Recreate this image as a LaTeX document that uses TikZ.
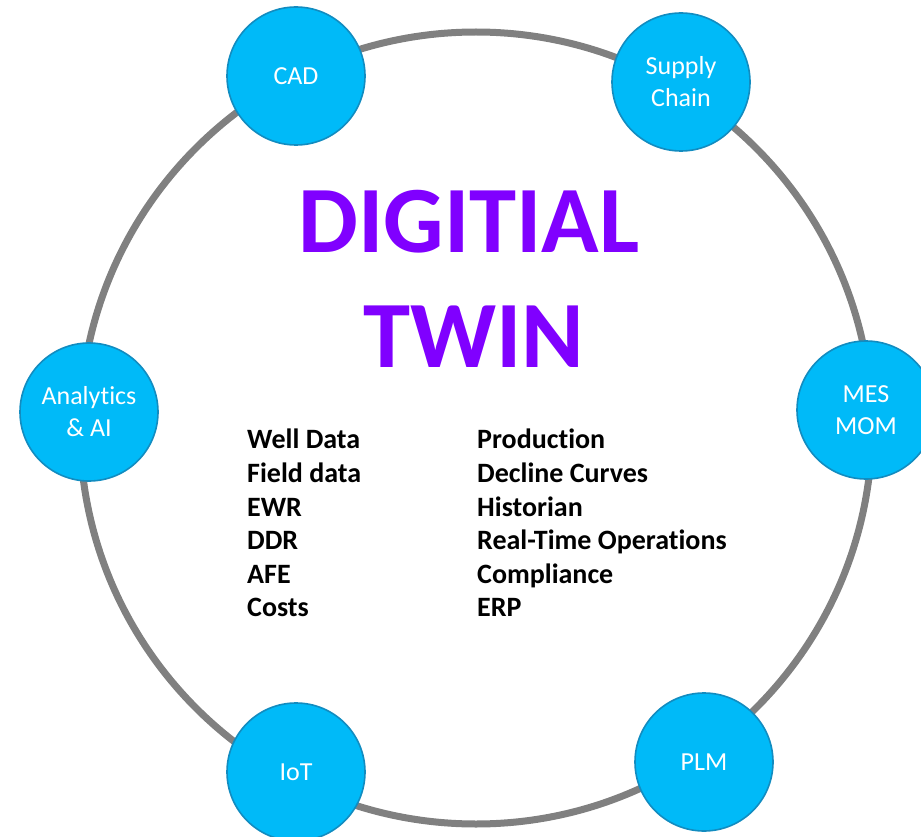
\documentclass[tikz,border=0pt]{standalone}
\usepackage{fontspec}
\setmainfont{Carlito}[Ligatures=NoCommon]
\usetikzlibrary{positioning}
\definecolor{hubblue}{RGB}{0,186,248}
\definecolor{hubline}{RGB}{18,140,192}
\definecolor{ringgrey}{RGB}{128,128,128}
\definecolor{twinpurple}{RGB}{128,0,255}
\begin{document}
\begin{tikzpicture}[x=1pt,y=-1pt,
   hub/.style={circle,draw=hubline,line width=1.6pt,fill=hubblue,minimum size=138pt,
      inner sep=0pt,text=white,align=center,font=\fontsize{26}{32}\selectfont},
   title/.style={text=twinpurple,font=\bfseries\fontsize{95}{115}\selectfont,inner sep=0pt},
   items/.style={align=left,inner sep=0pt,font=\bfseries\fontsize{28}{33.6}\selectfont}]
   \useasboundingbox (0,0) rectangle (921,837);
   \draw [ringgrey,line width=7pt] (476,428) circle (396);
   \node [hub] (cad) at (296,76) {CAD};
   \node [hub] (supply) at (681,82) {Supply\\Chain};
   \node [hub] (ai) at (89,412) {Analytics\\\& AI};
   \node [hub] (mes) at (866,410) {MES\\MOM};
   \node [hub] (iot) at (296,772) {IoT};
   \node [hub] (plm) at (704,762) {PLM};
   \node [title,anchor=base] (digital) at (469,252) {DIGITIAL};
   \node [title,anchor=base] (twin) at (474,367) {TWIN};
   \node [items,anchor=north west] (left) at (247,429) {Well Data\\Field data\\EWR\\DDR\\AFE\\Costs};
   \node [items,anchor=north west] (right) at (477,429) {Production\\Decline Curves\\Historian\\Real-Time Operations\\Compliance\\ERP};
\end{tikzpicture}
\end{document}
